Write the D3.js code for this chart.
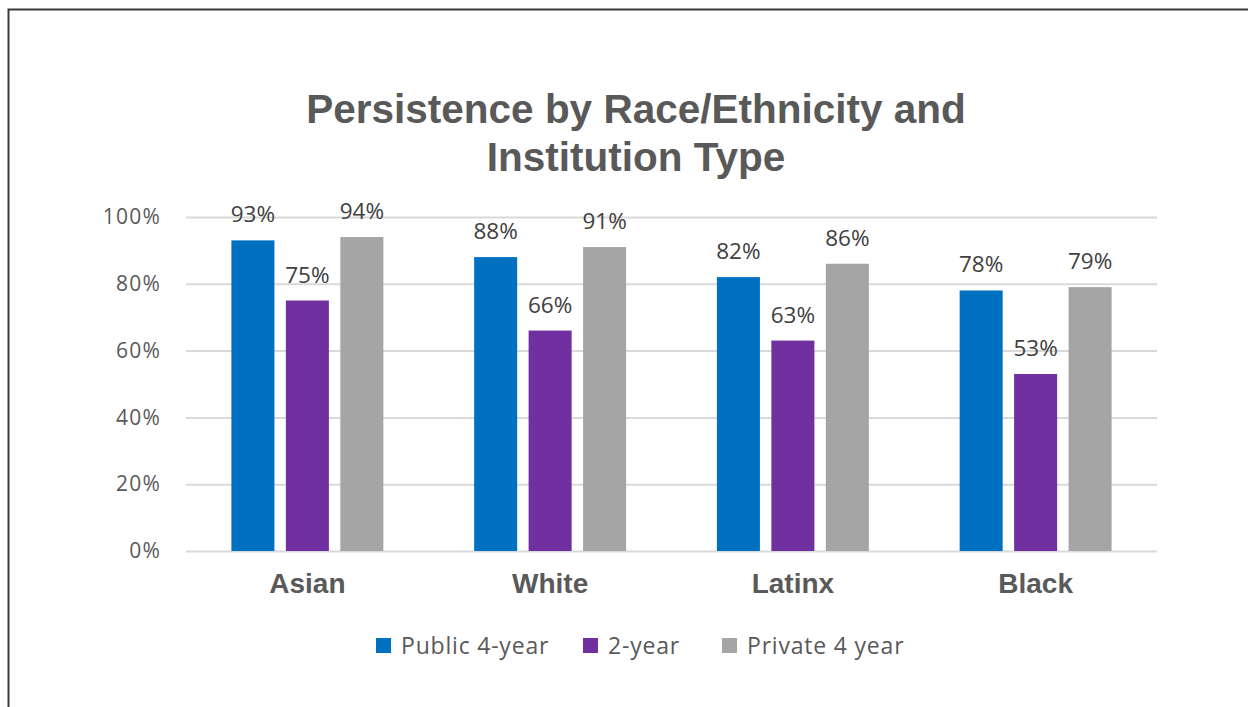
<!DOCTYPE html>
<html>
<head>
<meta charset="utf-8">
<script src="https://cdn.jsdelivr.net/npm/d3@7"></script>
<style>
  html, body { margin: 0; padding: 0; background: #fff; }
  svg { display: block; }
</style>
</head>
<body>
<svg id="chart" width="1248" height="707"></svg>
<script>
// Persistence rates (%) by race/ethnicity and institution type
const categories = ["Asian", "White", "Latinx", "Black"];
const seriesNames = ["Public 4-year", "2-year", "Private 4 year"];
const public4 = [93, 88, 82, 78];
const twoYear = [75, 66, 63, 53];
const private4 = [94, 91, 86, 79];
const yTicks = [0, 20, 40, 60, 80, 100];
const colors = ["#0070C0", "#7030A0", "#A5A5A5"];

const seriesValues = [public4, twoYear, private4];
const rows = categories.map((c, i) => ({
  category: c,
  values: seriesNames.map((s, k) => ({ series: s, key: k, value: seriesValues[k][i] }))
}));

const svg = d3.select("#chart");
const W = 1248, H = 707;

// frame around the chart area
svg.append("path")
  .attr("d", `M8.5,${H + 5} L8.5,9.5 L${W + 5},9.5`)
  .attr("fill", "none")
  .attr("stroke", "#3a3a3a")
  .attr("stroke-width", 2);

// title
const title = svg.append("text")
  .attr("text-anchor", "middle")
  .attr("font-family", "'Liberation Sans', Arial, sans-serif")
  .attr("font-weight", "bold")
  .attr("font-size", 40.5)
  .attr("fill", "#595959");
title.append("tspan").attr("x", 636).attr("y", 123).text("Persistence by Race/Ethnicity and");
title.append("tspan").attr("x", 636).attr("y", 171).text("Institution Type");

// plot area
const plot = { left: 186, right: 1157, top: 217, bottom: 551 };

const y = d3.scaleLinear().domain([0, 100]).range([plot.bottom, plot.top]);
const x0 = d3.scaleBand().domain(categories).range([plot.left, plot.right])
  .paddingInner(0.374).paddingOuter(0.187);
const x1 = d3.scaleBand().domain(seriesNames).range([0, x0.bandwidth()]).padding(0.21).paddingOuter(0);

// gridlines and percentage ticks
const yAxis = d3.axisLeft(y).tickValues(yTicks)
  .tickSize(-(plot.right - plot.left))
  .tickFormat(d => d + "%")
  .tickPadding(25);
const gy = svg.append("g").attr("transform", `translate(${plot.left},0)`).call(yAxis);
gy.select(".domain").remove();
gy.selectAll(".tick line").attr("stroke", "#D9D9D9").attr("stroke-width", 2);
gy.selectAll(".tick text")
  .attr("font-family", "'Open Sans', sans-serif")
  .attr("font-size", 21)
  .attr("letter-spacing", 1.2)
  .attr("fill", "#595959");

// bars
const groups = svg.append("g").selectAll("g").data(rows).join("g")
  .attr("transform", d => `translate(${x0(d.category)},0)`);

groups.selectAll("rect").data(d => d.values).join("rect")
  .attr("x", d => x1(d.series))
  .attr("y", d => y(d.value))
  .attr("width", x1.bandwidth())
  .attr("height", d => y(0) - y(d.value))
  .attr("fill", d => colors[d.key]);

// value labels
groups.selectAll("text.val").data(d => d.values).join("text")
  .attr("class", "val")
  .attr("x", d => x1(d.series) + x1.bandwidth() / 2)
  .attr("y", d => y(d.value) - 18)
  .attr("text-anchor", "middle")
  .attr("font-family", "'Open Sans', sans-serif")
  .attr("font-size", 22.5)
  .attr("fill", "#404040")
  .text(d => d.value + "%");

// category axis labels
const xAxis = d3.axisBottom(x0).tickSize(0).tickPadding(0);
const gx = svg.append("g").attr("transform", `translate(0,${plot.bottom})`).call(xAxis);
gx.select(".domain").remove();
gx.selectAll(".tick text")
  .attr("dy", 0)
  .attr("y", 42)
  .attr("font-family", "'Liberation Sans', Arial, sans-serif")
  .attr("font-weight", "bold")
  .attr("font-size", 28)
  .attr("fill", "#595959");

// legend
const legendItems = [
  { name: seriesNames[0], x: 376 },
  { name: seriesNames[1], x: 583 },
  { name: seriesNames[2], x: 722 }
];
const lg = svg.append("g").selectAll("g").data(legendItems).join("g")
  .attr("transform", d => `translate(${d.x},645)`);
lg.append("rect")
  .attr("x", 0).attr("y", -7).attr("width", 15).attr("height", 15)
  .attr("fill", (d, i) => colors[i]);
lg.append("text")
  .attr("x", 25).attr("y", 9)
  .attr("font-family", "'Open Sans', sans-serif")
  .attr("font-size", 23)
  .attr("letter-spacing", 0.8)
  .attr("fill", "#595959")
  .text(d => d.name);
</script>
</body>
</html>
